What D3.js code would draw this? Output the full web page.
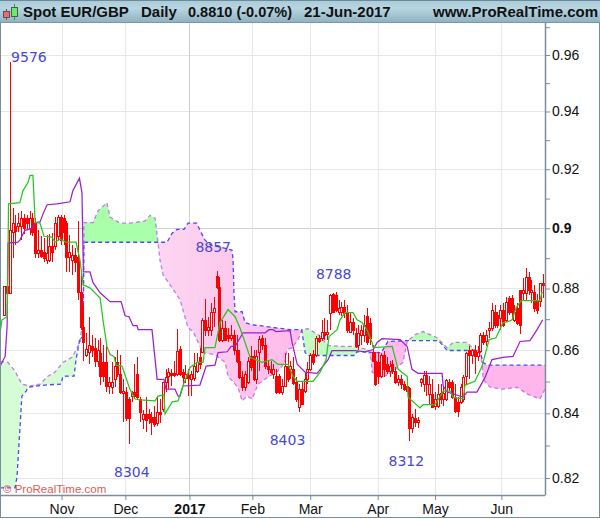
<!DOCTYPE html>
<html><head><meta charset="utf-8">
<script src="https://cdn.jsdelivr.net/npm/d3@7/dist/d3.min.js"></script>
<style>html,body{margin:0;padding:0;background:#fff}svg{display:block}text{font-family:"Liberation Sans",Arial,sans-serif}</style>
</head><body><svg id="c" width="600" height="519"></svg>
<script>
// Daily candles, in 1/10000 of a price unit
const opens=[8715,8786,8786,8987,9009,9006,9006,9033,9033,9000,9033,9019,8917,8927,8920,8894,8894,8940,8940,8973,9037,9033,9019,8904,8894,8910,8904,8789,8676,8586,8595,8612,8608,8564,8592,8561,8561,8486,8482,8507,8561,8523,8464,8467,8445,8454,8467,8523,8445,8383,8398,8398,8389,8389,8371,8405,8414,8498,8517,8526,8526,8523,8605,8530,8510,8520,8507,8510,8533,8577,8595,8698,8666,8666,8724,8842,8805,8634,8672,8650,8640,8650,8602,8564,8514,8482,8498,8580,8580,8507,8595,8640,8618,8549,8539,8523,8517,8517,8467,8486,8549,8539,8539,8498,8420,8476,8470,8507,8539,8589,8583,8640,8640,8660,8653,8721,8782,8779,8724,8724,8741,8721,8660,8692,8656,8618,8650,8650,8711,8689,8595,8564,8561,8517,8586,8555,8533,8555,8533,8498,8507,8492,8486,8479,8355,8386,8374,8498,8492,8520,8461,8461,8423,8423,8464,8445,8445,8498,8498,8451,8436,8436,8445,8517,8602,8586,8602,8580,8599,8650,8628,8666,8672,8724,8715,8705,8731,8698,8769,8769,8698,8737,8795,8786,8786,8839,8789,8789,8763,8760,8819];
const highs=[8809,8845,9576,9069,9043,9052,9059,9049,9046,9059,9052,9033,8993,8973,8967,8977,8980,8983,9037,9046,9046,9043,9024,8977,8943,8933,9024,8855,8747,8656,8708,8650,8640,8634,8640,8618,8612,8514,8561,8577,8602,8583,8507,8482,8451,8470,8555,8577,8451,8411,8451,8414,8405,8423,8454,8445,8498,8539,8542,8539,8564,8669,8615,8539,8552,8539,8533,8592,8592,8608,8705,8766,8708,8754,8773,8858,8839,8698,8695,8672,8682,8666,8650,8602,8533,8533,8577,8612,8602,8602,8647,8650,8640,8570,8564,8555,8539,8523,8507,8592,8592,8564,8577,8514,8492,8498,8530,8561,8592,8602,8647,8650,8698,8705,8698,8782,8786,8788,8763,8757,8763,8747,8721,8705,8672,8682,8682,8715,8737,8705,8618,8595,8595,8592,8599,8577,8564,8570,8545,8520,8520,8501,8507,8482,8398,8414,8389,8510,8533,8533,8517,8507,8467,8492,8492,8486,8507,8507,8504,8492,8451,8492,8520,8595,8615,8605,8618,8612,8656,8660,8666,8692,8754,8747,8724,8747,8754,8773,8776,8779,8747,8754,8795,8835,8868,8855,8829,8812,8782,8819,8848];
const lows=[8715,8776,8786,8901,8943,8987,8960,8980,8993,8977,8973,8901,8901,8901,8887,8881,8887,8887,8927,8960,8943,8943,8855,8855,8845,8855,8763,8666,8564,8577,8555,8577,8545,8545,8489,8498,8467,8461,8461,8482,8514,8461,8374,8377,8306,8436,8445,8445,8374,8352,8343,8368,8334,8358,8361,8371,8405,8467,8476,8486,8514,8517,8517,8492,8495,8454,8454,8501,8526,8539,8592,8647,8644,8644,8676,8799,8625,8625,8628,8625,8628,8586,8558,8507,8470,8470,8492,8533,8501,8492,8533,8602,8539,8523,8523,8507,8461,8461,8458,8482,8498,8507,8489,8436,8405,8427,8464,8492,8533,8552,8577,8622,8628,8634,8634,8666,8721,8724,8715,8711,8705,8656,8660,8650,8608,8602,8618,8625,8618,8618,8561,8486,8492,8510,8514,8523,8514,8523,8492,8486,8476,8470,8467,8315,8340,8358,8355,8482,8467,8454,8430,8417,8411,8417,8430,8423,8439,8470,8445,8402,8389,8430,8436,8492,8507,8555,8523,8564,8592,8618,8615,8640,8663,8672,8672,8666,8676,8692,8715,8698,8692,8682,8653,8763,8763,8779,8754,8724,8718,8741,8769];
const closes=[8809,8809,8993,9019,8990,9019,9033,9000,9019,9033,8987,8917,8927,8907,8901,8917,8940,8920,9019,9037,8960,8987,8904,8920,8910,8887,8789,8676,8625,8605,8618,8602,8564,8602,8517,8517,8486,8498,8498,8549,8523,8467,8470,8386,8386,8464,8454,8451,8405,8398,8380,8386,8374,8368,8405,8398,8498,8514,8530,8520,8520,8599,8523,8514,8523,8510,8523,8549,8561,8555,8698,8666,8676,8724,8737,8805,8634,8672,8634,8640,8650,8602,8564,8514,8482,8523,8564,8545,8507,8580,8637,8618,8549,8539,8530,8539,8467,8467,8486,8549,8507,8549,8495,8445,8476,8430,8507,8539,8586,8561,8640,8628,8660,8650,8660,8779,8724,8731,8737,8741,8721,8666,8692,8666,8612,8656,8666,8682,8625,8640,8564,8492,8517,8586,8539,8533,8549,8533,8498,8507,8492,8476,8470,8355,8389,8374,8380,8507,8520,8492,8492,8420,8445,8461,8445,8464,8504,8482,8451,8408,8408,8482,8514,8592,8586,8602,8580,8595,8650,8625,8650,8672,8731,8682,8682,8731,8682,8757,8724,8724,8724,8689,8682,8795,8839,8795,8795,8737,8731,8819,8810];
// Indicator lines: bar positions and values
const tenkanAt=[-1.4,-0.7,1.1,1.4,1.6,5.6,6.7,8.5,9.2,10.2,11,12.7,14.1,16.9,18,19.8,21.9,25.4,26.8,27.9,30.3,33.9,34.9,36.3,37.4,38.8,39.5,41.6,44.4,46.2,48,53.3,54.3,56.4,56.8,59.3,61.4,63.1,65.6,68.1,70.2,70.9,74.4,76.2,79,81.5,83.2,85,86.8,91,94.5,96.6,100.2,101.9,103.4,109,111.5,113.6,114.6,117.5,118.5,120.3,123.1,124.5,126.3,128,129.8,130.2,136.9,139,142.2,142.5,146.7,147.8,152,154.9,157.3,158.4,161.9,162.6,166.1,168.6,171.1,173.5,176,177.8,179.2,180.6,182.4,189,189.8];
const tenkanVal=[8656,8698,8708,8894,9082,9086,9127,9155,9179,9179,9019,9017,8973,8970,8953,8963,8953,8953,8894,8812,8802,8769,8698,8612,8586,8580,8552,8549,8476,8445,8442,8439,8454,8458,8398,8436,8439,8486,8545,8561,8561,8608,8608,8689,8731,8708,8672,8625,8577,8561,8570,8555,8555,8517,8501,8501,8530,8570,8644,8666,8698,8721,8721,8698,8689,8666,8625,8608,8612,8539,8517,8451,8417,8427,8427,8470,8470,8451,8445,8489,8501,8549,8634,8640,8689,8692,8698,8737,8760,8760,8789];
const kijunAt=[-1.4,0.4,1.1,1.4,4.9,5.6,7.4,10.2,11,12.7,13.8,15.2,18.7,23.3,24.3,26.6,27.5,28,30.3,31.4,33.9,37.4,41.3,42.7,44.1,45.5,46.9,47.3,52.2,53.3,54,56.4,57.1,60.3,61.4,62.1,63.1,69.1,71.3,74.4,75.5,78.7,80.1,81.5,84.3,92.1,93.5,94.9,95.9,100.9,101.6,103.4,106.2,110.4,112.5,114.3,115.7,123.8,127.3,130.2,131.6,133.3,139.7,142.2,143.9,146,154.5,154.9,156.3,161.9,163.3,166.8,169.7,172.1,176,179.5,182,185.5,188,190];
const kijunVal=[8549,8580,8676,8950,8953,8960,8993,9000,9019,9021,9049,9079,9082,9089,9127,9169,9120,8855,8855,8819,8786,8757,8757,8711,8708,8679,8679,8666,8666,8570,8507,8507,8476,8476,8454,8454,8486,8489,8549,8552,8592,8595,8612,8612,8656,8656,8666,8666,8660,8663,8625,8555,8530,8526,8549,8570,8599,8599,8595,8602,8625,8637,8634,8612,8539,8526,8526,8486,8467,8451,8467,8467,8514,8570,8577,8580,8628,8631,8666,8698];
const spanAAt=[-1.4,1.4,3.9,6.3,9.2,12.7,15.5,18,20.8,24,26.8,27.9,28.2,31.4,33.2,36.3,37.4,40.9,44.4,49.7,51.5,53.3,54.3,55,56.1,59.3,62.1,64.9,66.7,70.2,74.4,78,79,82.5,84,85.7,87.5,89.6,93.1,96.6,99.1,99.8,101.6,103.7,105.1,107.2,109.7,110.8,114.3,119.6,123.1,128.4,129.5,129.8,133.7,136.9,140.7,142.2,145,147.8,152.7,156.3,158.4,163.3,166.1,167.2,168.6,169,171.4,176,181,184.5,189,190.8];
const spanAVal=[8564,8561,8533,8492,8486,8492,8517,8530,8561,8577,8625,8708,9019,9019,9059,9086,9037,9017,9017,9024,9043,9033,8953,8894,8845,8802,8763,8672,8660,8592,8586,8561,8517,8482,8439,8454,8445,8492,8514,8533,8561,8602,8608,8634,8666,8669,8656,8650,8615,8612,8612,8602,8570,8530,8514,8530,8561,8628,8650,8660,8640,8608,8625,8625,8599,8599,8561,8507,8482,8476,8482,8461,8445,8476];
const spanBAt=[-1.4,3.9,4.6,6.3,7.8,8.5,14.5,20.1,20.8,24.7,25.4,26.8,27.9,28.2,54.3,57.5,59.3,61,63.5,64.9,68,69.1,70.9,73,76.2,80.4,80.8,81.1,81.5,84,85,87.5,100.9,105,106.2,107.6,123.8,124.5,133,135.4,142.2,152.8,153.8,156.3,167.9,168.9,170.4,190.8];
const spanBVal=[8170,8170,8205,8454,8470,8482,8489,8492,8517,8517,8570,8640,8640,8953,8953,8953,8983,8996,8996,9017,9017,8993,8960,8943,8937,8927,8894,8786,8724,8724,8689,8682,8666,8666,8592,8583,8583,8595,8592,8628,8631,8631,8625,8599,8599,8561,8552,8552];
// Cloud phases: start bar, end bar, kind
const cloudFrom=[-1.41,28.05,54.3,105.1,128.8,142.2,167.5];
const cloudTo=[28.05,54.3,105.1,128.8,142.2,167.5,190.8];
const cloudFill=["#d6fcd6","#aaffaa","url(#pinkGrad)","#c2fcc2","#ffb9ec","#bafcba","#ffb6ea"];
// Axes
const priceTicks=[0.82,0.83,0.84,0.85,0.86,0.87,0.88,0.89,0.90,0.91,0.92,0.93,0.94,0.95,0.96,0.97];
const priceLabels=[0.82,0.84,0.86,0.88,0.90,0.92,0.94,0.96];
const monthAt=[20.3,42.8,65.4,87.6,108,131.8,152,175.4];
const monthNames=["Nov","Dec","2017","Feb","Mar","Apr","May","Jun"];
// Annotations
const noteText=["9576","8857","8304","8403","8788","8312"];
const noteAt=[2.5,67.5,38.8,93.7,110,135.6];
const noteVal=[9576,8920,8202,8301,8832,8237];

const W=600,H=519,plotR=545,plotT=23,plotB=495;
const svg=d3.select("#c");
const x=d3.scaleLinear().domain([-1.411,190.8]).range([0,plotR]);
const y=d3.scaleLog().domain([0.96,0.82]).range([55,478]);
const py=v=>y(v/10000);
const defs=svg.append("defs");
const hg=defs.append("linearGradient").attr("id","hdr").attr("x1",0).attr("x2",0).attr("y1",0).attr("y2",1);
[[0,"#a9cad7"],[0.35,"#b7d6e2"],[1,"#8eb0bf"]].forEach(s=>hg.append("stop").attr("offset",s[0]).attr("stop-color",s[1]));
const pg=defs.append("linearGradient").attr("id","pinkGrad").attr("gradientUnits","userSpaceOnUse").attr("x1",x(54)).attr("x2",x(105)).attr("y1",0).attr("y2",0);
[[0,"#fdd6f2"],[0.45,"#fdcaee"],[1,"#ffb9ec"]].forEach(s=>pg.append("stop").attr("offset",s[0]).attr("stop-color",s[1]));
defs.append("clipPath").attr("id","plot").append("rect").attr("x",1).attr("y",plotT).attr("width",plotR-1).attr("height",plotB-plotT);

// grid
const grid=svg.append("g");
priceLabels.forEach(p=>grid.append("line").attr("x1",1).attr("x2",plotR).attr("y1",Math.round(y(p))+.5).attr("y2",Math.round(y(p))+.5).attr("stroke",p===0.90?"#cfcfcf":"#e6e6e6"));
monthAt.forEach((m,i)=>grid.append("line").attr("x1",Math.round(x(m))+.5).attr("x2",Math.round(x(m))+.5).attr("y1",plotT).attr("y2",plotB).attr("stroke",monthNames[i]==="2017"?"#cfcfcf":"#e6e6e6"));

const plot=svg.append("g").attr("clip-path","url(#plot)");
const interp=(xs,vs,t)=>{const k=d3.bisectLeft(xs,t);if(k<=0)return vs[0];if(k>=xs.length)return vs[vs.length-1];const a=xs[k-1],b=xs[k];return vs[k-1]+(vs[k]-vs[k-1])*(t-a)/(b-a)};
cloudFrom.forEach((a,s)=>{
  const b=cloudTo[s];
  const at=[...new Set([a,b,...spanAAt,...spanBAt])].filter(t=>t>=a&&t<=b).sort(d3.ascending);
  plot.append("path").attr("fill",cloudFill[s]).attr("d",d3.area().x(t=>x(t)).y0(t=>py(interp(spanAAt,spanAVal,t))).y1(t=>py(interp(spanBAt,spanBVal,t)))(at));
});
const line=(at,val,color,dash,w)=>plot.append("path").attr("fill","none").attr("stroke",color).attr("stroke-width",w).attr("stroke-dasharray",dash).attr("d",d3.line().x(i=>x(at[i])).y(i=>py(val[i]))(d3.range(at.length)));
line(spanAAt,spanAVal,"#c47ae8","4,3",1.3);
line(spanBAt,spanBVal,"#4a4af0","4,3",1.3);

// candles: wicks first, hollow bodies, then solid bodies on top
const bars=plot.append("g").attr("shape-rendering","crispEdges");
const order=d3.range(opens.length);
order.forEach(i=>{const cx=Math.round(x(i))+.5;bars.append("line").attr("x1",cx).attr("x2",cx).attr("y1",py(highs[i])).attr("y2",py(lows[i])).attr("stroke","#ff0000");});
const drawBody=i=>{
  const cx=Math.round(x(i))+.5,o=opens[i],c=closes[i];
  const t=Math.round(py(Math.max(o,c))),bt=Math.round(py(Math.min(o,c)));
  bars.append("rect").attr("x",cx-1).attr("width",2).attr("y",t+.5).attr("height",Math.max(bt-t,1)).attr("fill",c>=o?"#fff":"#ff0000").attr("stroke","#ff0000");
};
order.filter(i=>closes[i]>=opens[i]).forEach(drawBody);
order.filter(i=>closes[i]<opens[i]).forEach(drawBody);
line(kijunAt,kijunVal,"#9a20cc","",1.25);
line(tenkanAt,tenkanVal,"#20c820","",1.25);

// notes
noteText.forEach((t,i)=>svg.append("text").attr("x",x(noteAt[i])).attr("y",py(noteVal[i])).style("font-family","'DejaVu Sans'").style("font-size","14px").attr("fill","#4848d0").text(t));

// axes
const ra=d3.axisRight(y).tickValues(priceTicks).tickSize(5).tickPadding(2).tickFormat(v=>priceLabels.some(p=>Math.abs(p-v)<1e-6)?(Math.abs(v-0.9)<1e-6?"0.9":d3.format(".2f")(v)):"");
const rg=svg.append("g").attr("transform",`translate(${plotR},0)`).call(ra);
rg.select(".domain").remove();
rg.selectAll("line").attr("stroke","#7a8e9a");
rg.selectAll("text").style("font-size","14px").attr("fill","#111").style("font-weight",v=>Math.abs(v-0.9)<1e-6?"bold":"normal");
const ba=d3.axisBottom(x).tickValues(monthAt).tickSize(5).tickPadding(4).tickFormat((v,i)=>monthNames[i]);
const bg=svg.append("g").attr("transform",`translate(0,${plotB})`).call(ba);
bg.select(".domain").remove();
bg.selectAll("line").attr("stroke","#7a8e9a");
bg.selectAll("text").style("font-size","14px").attr("fill","#111").style("font-weight",(v,i)=>monthNames[i]==="2017"?"bold":"normal");

const frame="#7a8e9a";
svg.append("line").attr("x1",plotR+.5).attr("x2",plotR+.5).attr("y1",plotT).attr("y2",plotB+.5).attr("stroke",frame).attr("stroke-width",1.5);
svg.append("line").attr("x1",0).attr("x2",plotR).attr("y1",plotB+.5).attr("y2",plotB+.5).attr("stroke",frame).attr("stroke-width",1.5);
svg.append("rect").attr("x",.5).attr("y",.5).attr("width",W-1).attr("height",H-2).attr("fill","none").attr("stroke",frame);

// header
svg.append("rect").attr("x",0).attr("y",0).attr("width",W).attr("height",23).attr("fill","url(#hdr)");
svg.append("line").attr("x1",0).attr("x2",W).attr("y1",.5).attr("y2",.5).attr("stroke","#6f8b99");
svg.append("line").attr("x1",0).attr("x2",W).attr("y1",22.5).attr("y2",22.5).attr("stroke","#7a97a5");
const headerText=["Spot EUR/GBP","Daily","0.8810 (-0.07%)","21-Jun-2017","www.ProRealTime.com"];
const headerX=[23,141,188,304,433];
const headerSize=[15,15,14.5,15,15];
headerText.forEach((t,i)=>svg.append("text").attr("x",headerX[i]).attr("y",17).style("font-size",headerSize[i]+"px").style("font-weight","bold").attr("fill","#111").text(t));
const ic=svg.append("g").attr("shape-rendering","crispEdges");
ic.append("line").attr("x1",6.5).attr("x2",6.5).attr("y1",9).attr("y2",20).attr("stroke","#a33");
ic.append("rect").attr("x",3.5).attr("y",11.5).attr("width",6).attr("height",6).attr("fill","#f06a6a").attr("stroke","#555");
ic.append("line").attr("x1",14.5).attr("x2",14.5).attr("y1",4).attr("y2",20).attr("stroke","#2a2");
ic.append("rect").attr("x",11.5).attr("y",7.5).attr("width",6).attr("height",9).attr("fill","#66ee66").attr("stroke","#555");

svg.append("text").attr("x",3).attr("y",493).style("font-size","11.5px").attr("fill","#e05a5a").text("© ProRealTime.com");
</script></body></html>
